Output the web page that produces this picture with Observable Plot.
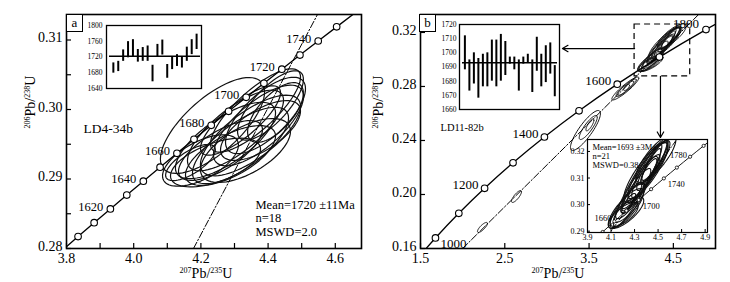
<!DOCTYPE html>
<html><head><meta charset="utf-8">
<script src="https://cdn.jsdelivr.net/npm/d3@7"></script>
<script src="https://cdn.jsdelivr.net/npm/@observablehq/plot@0.6"></script>
<style>
body{margin:0;background:#fff;}
#c{position:relative;width:730px;height:282px;overflow:hidden;font-family:"Liberation Serif",serif;background:#fff;}
#c > svg, #c > div{position:absolute;}
.tag{box-sizing:border-box;border:1.2px solid #000;background:#fff;font:13px "Liberation Serif",serif;text-align:center;line-height:15px;width:17px;height:18px;color:#000;}
</style></head><body><div id="c"></div>
<script>
// ---------- Concordia reference points (age Ma, 207Pb/235U, 206Pb/238U) ----------
const concAge = [1590,1600,1610,1620,1630,1640,1650,1660,1670,1680,1690,1700,1710,1720,1730,1740,1750,1760,1770,1780,1790,1800,1810];
const concR75 = [3.78704,3.83441,3.88226,3.93058,3.97938,4.02866,4.07843,4.12870,4.17945,4.23072,4.28248,4.33477,4.38756,4.44089,4.49474,4.54912,4.60404,4.65950,4.71552,4.77208,4.82921,4.88690,4.94517];
const concR68 = [0.27973,0.28172,0.28371,0.28570,0.28769,0.28969,0.29170,0.29370,0.29571,0.29772,0.29974,0.30175,0.30377,0.30580,0.30783,0.30986,0.31189,0.31393,0.31597,0.31801,0.32006,0.32211,0.32416];

const concAgeWide = [900,1000,1100,1200,1300,1400,1500,1600,1700,1800,1900];
const concR75Wide = [1.42629,1.67741,1.95452,2.26030,2.59774,2.97009,3.38099,3.83441,4.33477,4.88690,5.49618];
const concR68Wide = [0.14983,0.16780,0.18606,0.20460,0.22344,0.24256,0.26199,0.28172,0.30175,0.32211,0.34277];

// ---------- Panel a: LD4-34b ----------
const dotAgesA = [1600,1610,1620,1630,1640,1650,1660,1670,1680,1690,1700,1710,1720,1730,1740,1750];
const labelAgesA = [1620,1640,1660,1680,1700,1720,1740];
// error ellipses: centre, half-axes (2 sigma), correlation
const ellA_x   = [4.2345,4.1988,4.2435,4.2881,4.3179,4.3476,4.3714,4.3923,4.4071,4.3625,4.3030,4.2732,4.3327,4.2583,4.3774,4.3179,4.1690,4.4220];
const ellA_y   = [0.29770,0.29266,0.29237,0.29338,0.29482,0.29626,0.29770,0.29914,0.30058,0.29986,0.29698,0.29554,0.29410,0.29410,0.29698,0.29842,0.29237,0.29957];
const ellA_sx  = [0.155,0.113,0.134,0.134,0.143,0.149,0.134,0.119,0.098,0.134,0.143,0.149,0.134,0.125,0.119,0.119,0.074,0.083];
const ellA_sy  = [0.0069,0.0037,0.0035,0.0043,0.0055,0.0058,0.0058,0.0055,0.0050,0.0060,0.0058,0.0055,0.0046,0.0043,0.0043,0.0050,0.0026,0.0043];
const ellA_rho = [0.7,0.6,0.55,0.65,0.72,0.72,0.72,0.7,0.75,0.8,0.75,0.72,0.6,0.7,0.65,0.8,0.7,0.65];
const discA_x = [4.178,4.547];
const discA_y = [0.28,0.31367];
const statsA = "Mean=1720 ±11Ma\nn=18\nMSWD=2.0";
const sampleA = "LD4-34b";
// inset a: ages with error bars
const barA_lo = [1679,1683,1709,1718,1720,1707,1709,1709,1657,1720,1725,1666,1688,1696,1692,1709,1726,1739];
const barA_hi = [1705,1709,1738,1759,1764,1739,1744,1748,1699,1752,1763,1701,1720,1726,1720,1745,1764,1778];
const meanA = 1722;

// ---------- Panel b: LD11-82b ----------
const dotAgesB = [1000,1100,1200,1300,1400,1500,1600,1700,1800];
const ellB_x   = [4.430,4.447,4.413,4.473,4.396,4.438,4.456,4.379,4.421,4.481,4.344,4.242,4.226,4.259,4.225,4.276,4.228,4.310,4.250,4.211,4.327,
                  3.93,3.95,3.90,3.97, 3.457,3.49,3.51, 2.639,2.235];
const ellB_y   = [0.3136,0.3147,0.3128,0.3166,0.3121,0.3143,0.3158,0.3098,0.3128,0.3174,0.3083,0.2997,0.2985,0.3015,0.2978,0.3030,0.2970,0.3053,0.3004,0.2963,0.3072,
                  0.2785,0.2795,0.2770,0.2805, 0.2474,0.2496,0.2515, 0.1985,0.1756];
const ellB_sx  = [0.154,0.128,0.171,0.111,0.188,0.085,0.145,0.137,0.068,0.171,0.154,0.150,0.150,0.120,0.103,0.085,0.150,0.128,0.060,0.120,0.205,
                  0.16,0.11,0.08,0.06, 0.178,0.107,0.047, 0.059,0.059];
const ellB_sy  = [0.0113,0.0094,0.0105,0.0075,0.0113,0.0068,0.0083,0.0090,0.0045,0.0090,0.0098,0.0083,0.0075,0.0068,0.0045,0.0053,0.0060,0.0083,0.0038,0.0045,0.0158,
                  0.0085,0.0060,0.0045,0.0035, 0.0148,0.0089,0.0044, 0.0044,0.0037];
const ellB_rho = [0.9,0.9,0.88,0.9,0.85,0.9,0.85,0.9,0.85,0.8,0.9,0.85,0.8,0.85,0.8,0.85,0.75,0.9,0.8,0.7,0.93,
                  0.92,0.9,0.85,0.85, 0.85,0.85,0.8, 0.8,0.8];
const discB_x = [2.0,4.80];
const discB_y = [0.16,0.3333];
const zoomBox = {x1:4.04, x2:4.70, y1:0.2875, y2:0.3259};
const arrowsB = [
  {x1:4.04, y1:0.3081, x2:3.184, y2:0.3081},
  {x1:4.347, y1:0.2875, x2:4.347, y2:0.2422}
];
const sampleB = "LD11-82b";
const statsB = "Mean=1693 ±3Ma\nn=21\nMSWD=0.38";
const barB_lo = [1688,1673,1678,1668,1676,1676,1680,1676,1680,1684,1692,1688,1673,1692,1693,1672,1687,1676,1679,1685,1669];
const barB_hi = [1712,1695,1700,1696,1699,1700,1709,1709,1713,1708,1697,1697,1695,1697,1699,1695,1711,1699,1705,1707,1691];
const meanB = 1693;
const insetDotAges = [1640,1660,1680,1700,1720,1740,1760,1780,1800];

const titleX = "207Pb/235U";
const titleY = "206Pb/238U";

// ---------- helpers ----------
const conc = concAge.map((a,i)=>({age:a, x:concR75[i], y:concR68[i]}));
const concWide = concAgeWide.map((a,i)=>({age:a, x:concR75Wide[i], y:concR68Wide[i]}));
function ellipses(xs,ys,sxs,sys,rhos){
  const out=[];
  xs.forEach((cx,j)=>{
    const sx=sxs[j], sy=sys[j], r=rhos[j], k=Math.sqrt(1-r*r);
    for(let i=0;i<72;i++){const t=i/72*2*Math.PI;
      out.push({id:j, x:cx+sx*Math.cos(t), y:ys[j]+sy*(r*Math.cos(t)+k*Math.sin(t))});}
  });
  return out;
}
const ellA = ellipses(ellA_x,ellA_y,ellA_sx,ellA_sy,ellA_rho);
const ellB = ellipses(ellB_x,ellB_y,ellB_sx,ellB_sy,ellB_rho);
const discA = discA_x.map((x,i)=>({x, y:discA_y[i]}));
const discB = discB_x.map((x,i)=>({x, y:discB_y[i]}));
const byAge = (rows, ages) => rows.filter(d=>ages.includes(d.age));
const serif = "Liberation Serif";
const dashDot = "7,2,1.5,2";
const C = document.getElementById("c");
// isotope titles: leading mass numbers as small raised text
function supify(svg){
  d3.select(svg).selectAll("text").each(function(){
    const s = this.textContent;
    if (s !== titleX && s !== titleY) return;
    const m = s.match(/^(\d+)(Pb\/)(\d+)(U)$/);
    const t = d3.select(this); t.text(null);
    [[m[1],1],[m[2],0],[m[3],1],[m[4],0]].forEach(([txt,sup])=>{
      t.append("tspan").attr("font-size", sup ? 8 : null).attr("dy", sup ? -5 : 5).text(txt);
    });
    t.select("tspan").attr("dy", -5);
  });
}
function place(svg, left, top){ supify(svg); svg.style.left=left+"px"; svg.style.top=top+"px"; C.appendChild(svg); }

// ---------- Panel a ----------
const hA = 282-14-34, wA = 365-66-4;
place(Plot.plot({
  width:365, height:282, marginLeft:66, marginRight:4, marginTop:14, marginBottom:34,
  x:{domain:[3.8,4.678]}, y:{domain:[0.28,0.31367]},
  style:{fontFamily:serif, fontSize:"14px", color:"#000", background:"transparent", overflow:"visible"},
  marks:[
    Plot.line(ellA,{x:"x",y:"y",z:"id",curve:"linear-closed",stroke:"#111",strokeWidth:1.2,clip:true}),
    Plot.line(discA,{x:"x",y:"y",stroke:"#000",strokeWidth:1,strokeDasharray:dashDot,clip:true}),
    Plot.line(conc,{x:"x",y:"y",stroke:"#000",strokeWidth:1.3,clip:true}),
    Plot.dot(byAge(conc,dotAgesA),{x:"x",y:"y",r:3.3,fill:"white",stroke:"#000",strokeWidth:1.1}),
    Plot.text(byAge(conc,labelAgesA),{x:"x",y:"y",text:d=>String(d.age),textAnchor:"end",dx:-7,dy:-2,fontSize:12.5,fill:"#000"}),
    Plot.tickX([3.8,3.9,4.0,4.1,4.2,4.3,4.4,4.5,4.6],{x:d=>d,insetTop:hA-5,strokeWidth:1.2}),
    Plot.tickY([0.28,0.285,0.29,0.295,0.30,0.305,0.31],{y:d=>d,insetRight:wA-5,strokeWidth:1.2}),
    Plot.axisX({ticks:[3.8,4.0,4.2,4.4,4.6],tickSize:0,tickPadding:5,tickFormat:".1f",label:null,fontSize:14,fill:"#000"}),
    Plot.axisY({ticks:[0.28,0.29,0.30,0.31],tickSize:0,tickPadding:4,tickFormat:".2f",label:null,fontSize:14,fill:"#000",dy:-2}),
    Plot.frame({stroke:"#000",strokeWidth:1.6}),
    Plot.text([sampleA],{frameAnchor:"top-left",dx:17,dy:114,textAnchor:"start",lineAnchor:"middle",fontSize:13.5,fill:"#000"}),
    Plot.text([statsA],{frameAnchor:"bottom-left",dx:189,dy:-13,textAnchor:"start",lineAnchor:"bottom",lineHeight:1.05,fontSize:12.5,fill:"#000"}),
    Plot.text([titleX],{frameAnchor:"bottom",dx:-8,dy:25,lineAnchor:"middle",fontSize:14,fill:"#000"}),
    Plot.text([titleY],{frameAnchor:"left",dx:-36,dy:-3,rotate:-90,lineAnchor:"middle",fontSize:14,fill:"#000"})
  ]
}),0,0);

// inset a
place(Plot.plot({
  width:125, height:75, marginLeft:26, marginRight:4, marginTop:7, marginBottom:5,
  x:{domain:[-1.4,18.0], axis:null}, y:{domain:[1640,1800]},
  style:{fontFamily:serif, fontSize:"7.5px", color:"#000", background:"transparent", overflow:"visible"},
  marks:[
    Plot.frame({fill:"white"}),
    Plot.ruleX(barA_lo,{x:(d,i)=>i,y1:d=>d,y2:(d,i)=>barA_hi[i],strokeWidth:2,stroke:"#000"}),
    Plot.ruleY([meanA],{insetLeft:3,insetRight:1,strokeWidth:1.5,stroke:"#000"}),
    Plot.axisY({ticks:[1640,1680,1720,1760,1800],tickSize:0,tickPadding:4,tickFormat:"d",label:null,fill:"#000"}),
    Plot.frame({stroke:"#000",strokeWidth:1.3})
  ]
}),80,18);

// ---------- Panel b ----------
const hB = 282-14-34, wB = 365-55-15;
place(Plot.plot({
  width:365, height:282, marginLeft:55, marginRight:15, marginTop:14, marginBottom:34,
  x:{domain:[1.5,5.0]}, y:{domain:[0.16,0.3333]},
  style:{fontFamily:serif, fontSize:"14px", color:"#000", background:"transparent", overflow:"visible"},
  marks:[
    Plot.line(ellB,{x:"x",y:"y",z:"id",curve:"linear-closed",stroke:"#111",strokeWidth:1,clip:true}),
    Plot.line(discB,{x:"x",y:"y",stroke:"#000",strokeWidth:1,strokeDasharray:dashDot,clip:true}),
    Plot.line(concWide,{x:"x",y:"y",curve:"catmull-rom",stroke:"#000",strokeWidth:1.3,clip:true}),
    Plot.dot(byAge(concWide,dotAgesB),{x:"x",y:"y",r:3.3,fill:"white",stroke:"#000",strokeWidth:1.1}),
    Plot.text(byAge(concWide,[1200,1400,1600]),{x:"x",y:"y",text:d=>String(d.age),textAnchor:"end",dx:-6,dy:-3,fontSize:13,fill:"#000"}),
    Plot.text(byAge(concWide,[1800]),{x:"x",y:"y",text:d=>String(d.age),textAnchor:"end",dx:-7,dy:-6,fontSize:13,fill:"#000"}),
    Plot.text(byAge(concWide,[1000]),{x:"x",y:"y",text:d=>String(d.age),textAnchor:"start",dx:5,dy:6,fontSize:13,fill:"#000"}),
    Plot.rect([zoomBox],{x1:"x1",x2:"x2",y1:"y1",y2:"y2",fill:"none",stroke:"#000",strokeWidth:1.2,strokeDasharray:"6,4"}),
    Plot.arrow(arrowsB,{x1:"x1",y1:"y1",x2:"x2",y2:"y2",stroke:"#000",strokeWidth:1.2,headLength:8,headAngle:60}),
    Plot.tickX([1.5,2.5,3.5,4.5],{x:d=>d,insetTop:hB-5,strokeWidth:1.2}),
    Plot.tickY([0.16,0.20,0.24,0.28,0.32],{y:d=>d,insetRight:wB-5,strokeWidth:1.2}),
    Plot.axisX({ticks:[1.5,2.5,3.5,4.5],tickSize:0,tickPadding:5,tickFormat:".1f",label:null,fontSize:14,fill:"#000"}),
    Plot.axisY({ticks:[0.16,0.20,0.24,0.28,0.32],tickSize:0,tickPadding:4,tickFormat:".2f",label:null,fontSize:14,fill:"#000",dy:-2}),
    Plot.frame({stroke:"#000",strokeWidth:1.6}),
    Plot.text([sampleB],{frameAnchor:"top-left",dx:20,dy:113,textAnchor:"start",lineAnchor:"middle",fontSize:10.5,fill:"#000"}),
    Plot.text([titleX],{frameAnchor:"bottom",dx:-10,dy:25,lineAnchor:"middle",fontSize:14,fill:"#000"}),
    Plot.text([titleY],{frameAnchor:"left",dx:-42,dy:-3,rotate:-90,lineAnchor:"middle",fontSize:14,fill:"#000"})
  ]
}),365,0);

// inset b: ages
place(Plot.plot({
  width:128, height:98, marginLeft:24, marginRight:4, marginTop:7, marginBottom:6,
  x:{domain:[-1.2,21.05], axis:null}, y:{domain:[1660,1720]},
  style:{fontFamily:serif, fontSize:"7.5px", color:"#000", background:"transparent", overflow:"visible"},
  marks:[
    Plot.frame({fill:"white"}),
    Plot.ruleX(barB_lo,{x:(d,i)=>i,y1:d=>d,y2:(d,i)=>barB_hi[i],strokeWidth:2,stroke:"#000"}),
    Plot.ruleY([meanB],{insetLeft:3,insetRight:2,strokeWidth:1.6,stroke:"#000"}),
    Plot.axisY({ticks:[1660,1670,1680,1690,1700,1710,1720],tickSize:0,tickPadding:3,tickFormat:"d",label:null,fill:"#000"}),
    Plot.frame({stroke:"#000",strokeWidth:1.3})
  ]
}),435,17);

// inset b: enlarged concordia
const hI = 110-4-13, wI = 150-25-5;
place(Plot.plot({
  width:150, height:110, marginLeft:25, marginRight:5, marginTop:4, marginBottom:13,
  x:{domain:[3.9,4.92]}, y:{domain:[0.2895,0.3245]},
  style:{fontFamily:serif, fontSize:"8px", color:"#000", background:"transparent", overflow:"visible"},
  marks:[
    Plot.frame({fill:"white"}),
    Plot.line(ellB,{x:"x",y:"y",z:"id",curve:"linear-closed",stroke:"#111",strokeWidth:1.1,clip:true}),
    Plot.line(discB,{x:"x",y:"y",stroke:"#000",strokeWidth:0.9,strokeDasharray:"5,2,1.2,2",clip:true}),
    Plot.line(conc,{x:"x",y:"y",stroke:"#000",strokeWidth:0.9,clip:true}),
    Plot.dot(byAge(conc,insetDotAges),{x:"x",y:"y",r:1.6,fill:"white",stroke:"#000",strokeWidth:0.8,clip:true}),
    Plot.text(byAge(conc,[1660]),{x:"x",y:"y",text:d=>String(d.age),textAnchor:"end",dx:-3,dy:-3,fontSize:8.5,fill:"#000"}),
    Plot.text(byAge(conc,[1700,1740]),{x:"x",y:"y",text:d=>String(d.age),textAnchor:"start",dx:4,dy:6,fontSize:8.5,fill:"#000"}),
    Plot.text(byAge(conc,[1780]),{x:"x",y:"y",text:d=>String(d.age),textAnchor:"end",dx:-3,dy:-1,fontSize:8.5,fill:"#000"}),
    Plot.tickX([3.9,4.1,4.3,4.5,4.7,4.9],{x:d=>d,insetTop:hI-3}),
    Plot.tickY([0.29,0.30,0.31,0.32],{y:d=>d,insetRight:wI-3}),
    Plot.axisX({ticks:[3.9,4.1,4.3,4.5,4.7,4.9],tickSize:0,tickPadding:2,tickFormat:".1f",label:null,fill:"#000"}),
    Plot.axisY({ticks:[0.29,0.30,0.31,0.32],tickSize:0,tickPadding:3,tickFormat:".2f",label:null,fill:"#000"}),
    Plot.text([statsB],{frameAnchor:"top-left",dx:5,dy:4,textAnchor:"start",lineAnchor:"top",lineHeight:1.05,fontSize:8.5,fill:"#000"}),
    Plot.frame({stroke:"#000",strokeWidth:1.2})
  ]
}),562,135);

// panel tags
[["a",66,14],["b",419,14]].forEach(([t,l,tp])=>{
  const d=document.createElement("div"); d.className="tag"; d.textContent=t;
  d.style.left=l+"px"; d.style.top=tp+"px"; C.appendChild(d);
});
</script></body></html>
